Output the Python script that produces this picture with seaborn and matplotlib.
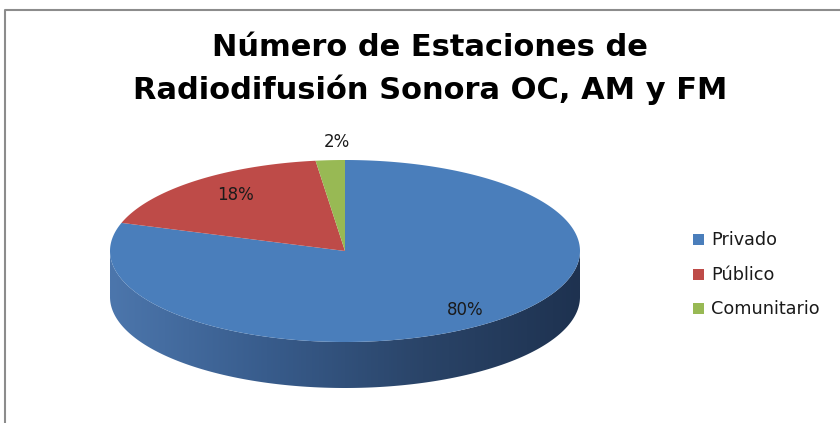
import numpy as np
import matplotlib
matplotlib.use("Agg")
import matplotlib.pyplot as plt
import seaborn as sns
from matplotlib.patches import Polygon, Rectangle
from matplotlib.colors import LinearSegmentedColormap

# Data
categories = ["Privado", "Público", "Comunitario"]
shares = [80, 18, 2]
colors = ["#4A7EBB", "#BE4B48", "#98B954"]
title_lines = ["Número de Estaciones de", "Radiodifusión Sonora OC, AM y FM"]

sns.set_theme(style="white")
plt.rcParams["font.family"] = ["DejaVu Sans"]
palette = sns.color_palette(colors)

fig = plt.figure(figsize=(8.4, 4.23), dpi=100)
ax = fig.add_axes([0, 0, 1, 1])
ax.set_xlim(0, 840)
ax.set_ylim(423, 0)
ax.axis("off")

# frame of the chart area
ax.plot([5, 5, 840], [423, 10, 10], color="#8c8c8c", lw=1.5, solid_capstyle="butt")

# pie geometry (pixel units)
cx, cy, rx, ry, depth = 345, 251, 235, 91, 46


def ell(t):
    t = np.radians(t)
    return cx + rx * np.cos(t), cy - ry * np.sin(t)


total = sum(shares)
starts, ends = [], []
a = 90.0
for v in shares:
    starts.append(a)
    a -= 360.0 * v / total
    ends.append(a)

# side walls (front half: angles between -180 and 0)
side_cmap = LinearSegmentedColormap.from_list(
    "side", ["#4C76AC", "#385C8C", "#2A4468", "#1E3250"])
for s, e, col in zip(starts, ends, palette):
    for shift in (0, -360, 360):
        lo, hi = max(e + shift, -180), min(s + shift, 0)
        if hi <= lo:
            continue
        t = np.linspace(lo, hi, 200)
        xs, ys = ell(t)
        pts = np.concatenate([np.column_stack([xs, ys]),
                              np.column_stack([xs[::-1], ys[::-1] + depth])])
        poly = Polygon(pts, closed=True, facecolor="none", edgecolor="none")
        ax.add_patch(poly)
        grad = np.linspace(0, 1, 256).reshape(1, -1)
        im = ax.imshow(grad, cmap=side_cmap, aspect="auto",
                       extent=[cx - rx, cx + rx, cy + ry + depth, cy - ry],
                       zorder=1)
        im.set_clip_path(poly)

# top face
for s, e, col in zip(starts, ends, palette):
    t = np.linspace(s, e, 300)
    xs, ys = ell(t)
    pts = np.vstack([[cx, cy], np.column_stack([xs, ys])])
    ax.add_patch(Polygon(pts, closed=True, facecolor=col, edgecolor="none", zorder=2))

# percentage labels
for s, e, v in zip(starts, ends, shares):
    mid = np.radians((s + e) / 2)
    f = 0.8 if v / total > 0.05 else 1.2
    ax.text(cx + 10 + f * rx * np.cos(mid), cy - f * ry * np.sin(mid),
            f"{round(100 * v / total)}%", ha="center", va="center",
            fontsize=12, color="#1a1a1a", zorder=3)

# title
for i, line in enumerate(title_lines):
    ax.text(430, 48 + 42 * i, line, ha="center", va="center", fontsize=22,
            fontweight="bold", color="black")

# legend
for i, (name, col) in enumerate(zip(categories, palette)):
    y = 240 + i * 34.5
    ax.add_patch(Rectangle((693, y - 5.5), 11, 11, facecolor=col, edgecolor="none"))
    ax.text(711, y, name, ha="left", va="center", fontsize=12.7, color="#1a1a1a")

fig.savefig("out.png", dpi=100)
